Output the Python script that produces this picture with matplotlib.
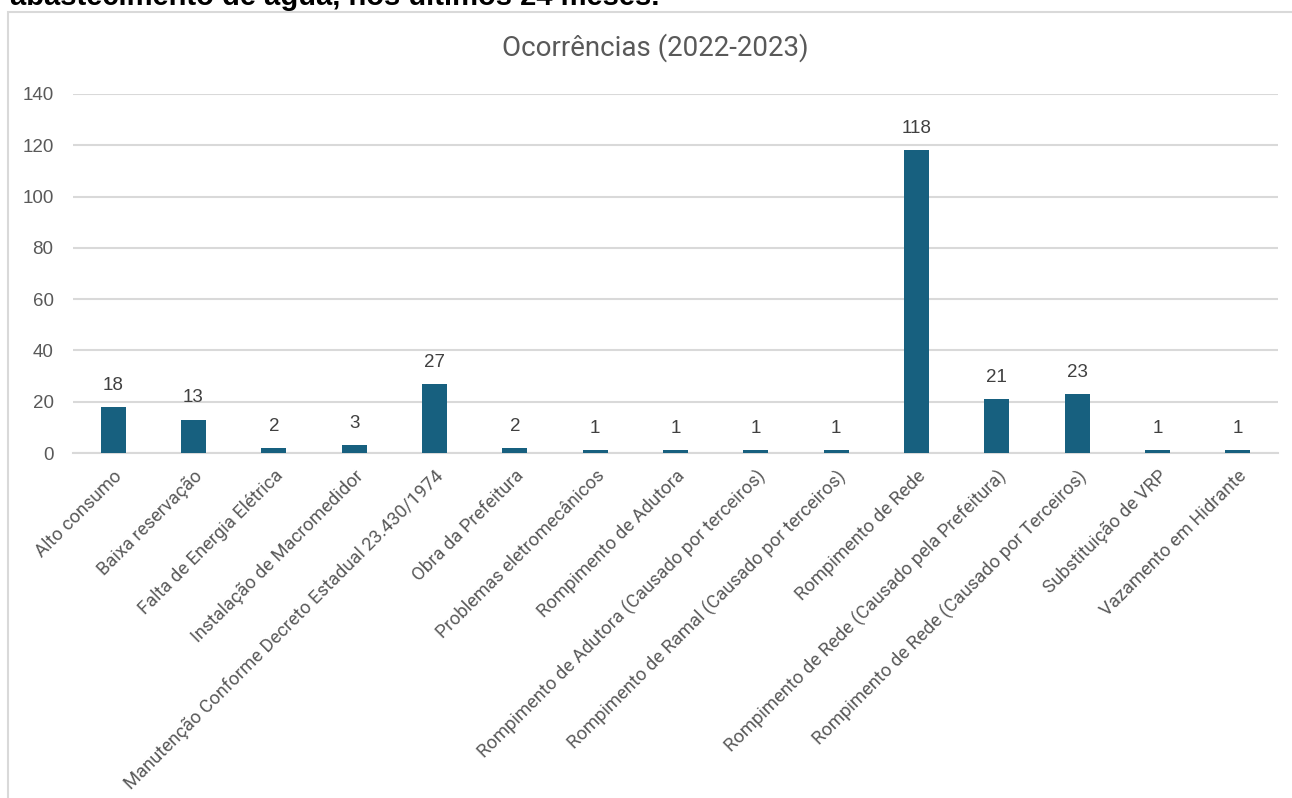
import matplotlib.pyplot as plt
from matplotlib.patches import Rectangle

# dados do gráfico
categorias = [
    'Alto consumo',
    'Baixa reservação',
    'Falta de Energia Elétrica',
    'Instalação de Macromedidor',
    'Manutenção Conforme Decreto Estadual 23.430/1974',
    'Obra da Prefeitura',
    'Problemas eletromecânicos',
    'Rompimento de Adutora',
    'Rompimento de Adutora (Causado por terceiros)',
    'Rompimento de Ramal (Causado por terceiros)',
    'Rompimento de Rede',
    'Rompimento de Rede (Causado pela Prefeitura)',
    'Rompimento de Rede (Causado por Terceiros)',
    'Substituição de VRP',
    'Vazamento em Hidrante',
]
ocorrencias = [18, 13, 2, 3, 27, 2, 1, 1, 1, 1, 118, 21, 23, 1, 1]
titulo = 'Ocorrências (2022-2023)'
cabecalho = 'abastecimento de água, nos últimos 24 meses.'

cor_barra = '#17607F'
cor_texto = '#595959'
cor_grade = '#D9D9D9'

fig = plt.figure(figsize=(12.92, 7.98), dpi=100)

# moldura do gráfico (cortada à direita e embaixo)
fig.patches.append(Rectangle((8 / 1292, -0.1), 1.2, 1.1 - 12 / 798,
                             transform=fig.transFigure, fill=False,
                             edgecolor=cor_grade, linewidth=1.5))

# texto do documento cortado no topo
fig.text(10 / 1292, 1 - 5 / 798, cabecalho, fontsize=21, fontweight='bold',
         family='Liberation Sans', color='#000000', va='baseline', ha='left')

ax = fig.add_axes([73 / 1292, 1 - 453 / 798, (1278 - 73) / 1292, (453 - 94) / 798])

x = range(len(categorias))
barras = ax.bar(x, ocorrencias, width=0.31, color=cor_barra, zorder=3)

for xi, v in zip(x, ocorrencias):
    ax.annotate(str(v), (xi, v), xytext=(0, 9.5), textcoords='offset points',
                ha='center', va='bottom', fontsize=13.5, color='#404040',
                family='Liberation Sans')

ax.set_xlim(-0.5, len(categorias) - 0.5)
ax.set_ylim(0, 140)
ax.set_yticks(range(0, 141, 20))
ax.yaxis.grid(True, color=cor_grade, linewidth=1.5, zorder=0)
ax.tick_params(axis='both', length=0, colors=cor_texto)
ax.tick_params(axis='y', labelsize=13.5, pad=14)
for lbl in ax.get_yticklabels():
    lbl.set_family('Liberation Sans')

ax.set_xticks(list(x))
ax.set_xticklabels(categorias, rotation=45, ha='right', rotation_mode='anchor',
                   fontsize=13.2, family='Roboto', color=cor_texto)
ax.tick_params(axis='x', pad=10)

for s in ['top', 'right', 'left']:
    ax.spines[s].set_visible(False)
ax.spines['bottom'].set_color(cor_grade)
ax.spines['bottom'].set_linewidth(1.5)

fig.text(655 / 1292, 1 - 48 / 798, titulo, fontsize=20, color=cor_texto,
         family='Roboto', ha='center', va='center')

fig.savefig('out.png', dpi=100)
